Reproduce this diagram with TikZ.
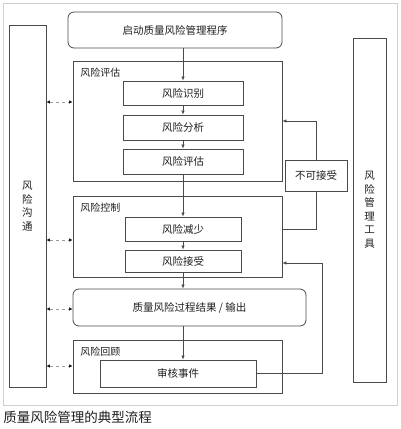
\documentclass[tikz,border=0pt]{standalone}
\usepackage{fontspec}
\setmainfont{Noto Sans CJK SC}
\usetikzlibrary{arrows.meta, positioning, calc}
\definecolor{cline}{HTML}{4A4A4A}
\definecolor{cdash}{HTML}{9A9A9A}
\definecolor{cframe}{HTML}{D0D0D0}
\definecolor{ctext}{HTML}{1E1E1E}
\tikzset{
  every picture/.style={line width=0.8pt},
  box/.style={draw=cline, text=ctext, align=center, inner sep=0pt, font=\fontsize{10.5}{12}\selectfont},
  grp/.style={draw=cline, inner sep=0pt},
  flow/.style={-{Latex[length=4pt, width=3.5pt]}, draw=cline, line width=0.7pt},
  link/.style={{Latex[length=3.5pt, width=3.5pt, color=ctext]}-{Latex[length=3.5pt, width=3.5pt, color=ctext]}, draw=cdash, dashed, dash pattern=on 3pt off 3pt, line width=0.7pt},
  lbl/.style={text=ctext, font=\fontsize{10}{12}\selectfont, anchor=west, inner sep=0pt},
}
\begin{document}
\begin{tikzpicture}[x=1pt, y=-1pt,
                    wide/.style={box, minimum width=#1},
                    tall/.style={box, font=\fontsize{10.5}{13.5}\selectfont}]
  \useasboundingbox (0,0) rectangle (400,429);
  \draw[cframe, line width=0.6pt] (3,3) rectangle (397,405);
  % side columns
  \node[tall, minimum width=37pt, minimum height=362pt] (comm) at (27.5,206) {风\\险\\沟\\通};
  \node[tall, minimum width=33pt, minimum height=344pt] (tools) at (369.5,210) {风\\险\\管\\理\\工\\具};
  % start
  \node[box, rounded corners=6pt, minimum width=214pt, minimum height=36pt] (start) at (175,30) {启动质量风险管理程序};
  % risk assessment
  \node[grp, minimum width=209pt, minimum height=120pt] (assess) at (177.5,121) {};
  \node[lbl] at (80,73) {风险评估};
  \node[wide=120pt, minimum height=24pt] (ident) at (183,93) {风险识别};
  \node[wide=120pt, minimum height=25pt] (analy) at (183,127.5) {风险分析};
  \node[wide=120pt, minimum height=25pt] (evalu) at (183,161.5) {风险评估};
  % risk control
  \node[grp, minimum width=209pt, minimum height=81pt] (ctrl) at (177.5,236.5) {};
  \node[lbl] at (80,208) {风险控制};
  \node[wide=116pt, minimum height=24pt] (reduc) at (183,229) {风险减少};
  \node[wide=116pt, minimum height=22pt] (accep) at (183,261) {风险接受};
  \node[box, minimum width=62pt, minimum height=31pt] (unacc) at (316,175.5) {不可接受};
  % output
  \node[box, rounded corners=6pt, minimum width=233pt, minimum height=37pt] (output) at (189.5,307.5) {质量风险过程结果 / 输出};
  % risk review
  \node[grp, minimum width=209pt, minimum height=53pt] (review) at (177.5,366.5) {};
  \node[lbl] at (80,352) {风险回顾};
  \node[wide=156pt, minimum height=27pt] (event) at (178,373.5) {审核事件};
  \coordinate (fb) at (322,263);
  % main flow
  \draw[flow] (start.south -| ident.north) -- (ident.north);
  \draw[flow] (ident.south) -- (analy.north);
  \draw[flow] (analy.south) -- (evalu.north);
  \draw[flow] (evalu.south) -- (reduc.north);
  \draw[flow] (reduc.south) -- (accep.north);
  \draw[flow] (accep.south) -- (accep.south |- output.north);
  \draw[flow] (output.south -| accep.south) -- (event.north -| accep.south);
  % loops
  \draw[cline, line width=0.7pt] (reduc.east -| ctrl.east) -| (unacc.south);
  \draw[flow] (unacc.north) |- (assess.east);
  \draw[flow] (event.east) -| (fb) -- (fb -| ctrl.east);
  % communication
  \foreach \g/\yy in {assess/102, ctrl/240, output/309, review/366}
    \draw[link] (comm.east |- 0,\yy) -- (\g.west |- 0,\yy);
  \node[text=ctext, font=\fontsize{13.5}{15}\selectfont, anchor=west, inner sep=0pt] (caption) at (3,417) {质量风险管理的典型流程};
\end{tikzpicture}
\end{document}
